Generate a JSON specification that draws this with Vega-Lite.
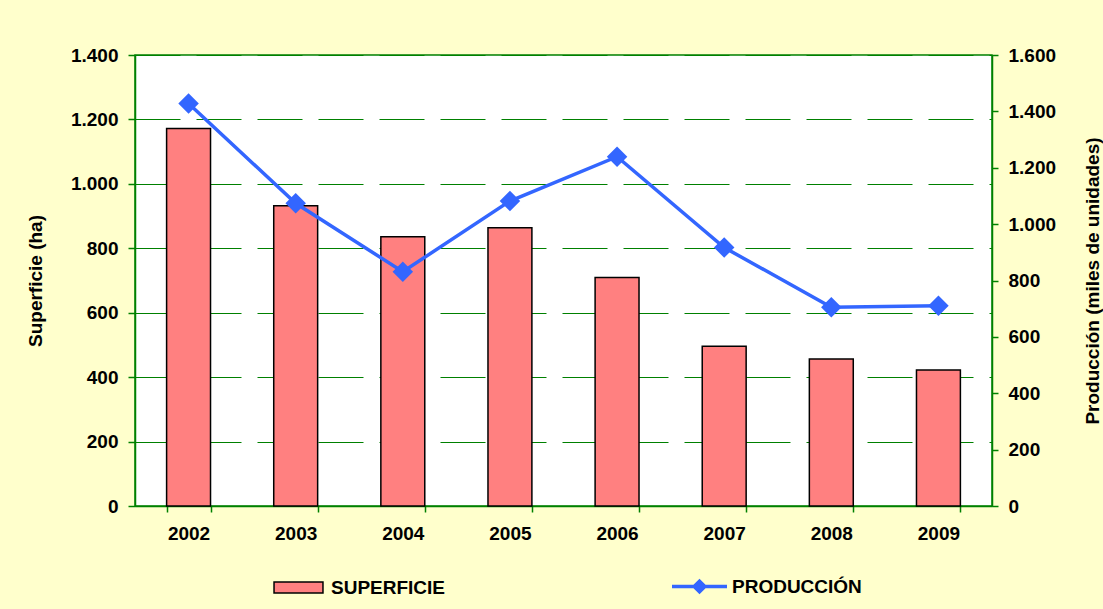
{
  "$schema": "https://vega.github.io/schema/vega-lite/v6.json",
  "autosize": {"type": "none"},
  "width": 857,
  "height": 451,
  "padding": {"left": 135, "top": 55, "right": 111, "bottom": 103},
  "background": "#FFFFCC",
  "config": {
    "font": "Liberation Sans",
    "view": {"fill": "white", "stroke": "#008000", "strokeWidth": 1.5},
    "axis": {
      "labelFont": "Liberation Sans",
      "labelFontSize": 19,
      "labelFontWeight": "bold",
      "labelColor": "black",
      "titleFont": "Liberation Sans",
      "titleFontSize": 19,
      "titleFontWeight": "bold",
      "titleColor": "black",
      "domainColor": "#008000",
      "tickColor": "#008000",
      "domainWidth": 1.5,
      "tickWidth": 1.5
    },
    "legend": {
      "labelFont": "Liberation Sans",
      "labelFontSize": 19,
      "labelFontWeight": "bold",
      "labelColor": "black",
      "padding": 0,
      "symbolSize": 3025,
      "symbolOpacity": 1
    }
  },
  "data": {
    "values": [
      {"year": "2002", "superficie": 1172, "produccion": 1428},
      {"year": "2003", "superficie": 932, "produccion": 1074},
      {"year": "2004", "superficie": 836, "produccion": 831},
      {"year": "2005", "superficie": 864, "produccion": 1082},
      {"year": "2006", "superficie": 709, "produccion": 1239},
      {"year": "2007", "superficie": 496, "produccion": 917},
      {"year": "2008", "superficie": 456, "produccion": 705},
      {"year": "2009", "superficie": 422, "produccion": 710}
    ]
  },
  "encoding": {
    "x": {
      "field": "year",
      "type": "ordinal",
      "scale": {"paddingInner": 0.59, "paddingOuter": 0.295},
      "axis": {
        "title": null,
        "labelAngle": 0,
        "tickBand": "extent",
        "tickSize": 6,
        "labelPadding": 12,
        "grid": false
      }
    }
  },
  "layer": [
    {
      "mark": {"type": "bar", "stroke": "black", "strokeWidth": 1.5},
      "encoding": {
        "y": {
          "field": "superficie",
          "type": "quantitative",
          "scale": {"domain": [0, 1400]},
          "axis": {
            "title": "Superficie (ha)",
            "values": [0, 200, 400, 600, 800, 1000, 1200, 1400],
            "labelExpr": "replace(format(datum.value, ','), ',', '.')",
            "grid": true,
            "gridColor": "#008000",
            "gridDash": [45, 16],
            "gridWidth": 1,
            "tickSize": 7,
            "labelPadding": 10,
            "titlePadding": 25
          }
        },
        "fill": {
          "datum": "SUPERFICIE",
          "type": "nominal",
          "scale": {"domain": ["SUPERFICIE"], "range": ["#FF8080"]},
          "legend": {
            "orient": "none",
            "legendX": 135,
            "legendY": 504,
            "title": null,
            "symbolType": "M-0.89,-0.2H0.89V0.2H-0.89Z",
            "symbolStrokeColor": "black",
            "symbolStrokeWidth": 1.5,
            "labelOffset": 4
          }
        }
      }
    },
    {
      "encoding": {
        "y": {
          "field": "produccion",
          "type": "quantitative",
          "scale": {"domain": [0, 1600]},
          "axis": {
            "orient": "right",
            "title": "Producción (miles de unidades)",
            "titleAngle": 270,
            "titleBaseline": "top",
            "values": [0, 200, 400, 600, 800, 1000, 1200, 1400, 1600],
            "labelExpr": "replace(format(datum.value, ','), ',', '.')",
            "grid": false,
            "tickSize": 6,
            "labelPadding": 10,
            "titlePadding": 28
          }
        }
      },
      "layer": [
        {
          "mark": {"type": "line", "strokeWidth": 3.5, "color": "#3366FF"}
        },
        {
          "mark": {"type": "point", "shape": "diamond", "size": 420, "filled": true, "opacity": 1, "strokeWidth": 0},
          "encoding": {
            "fill": {
              "datum": "PRODUCCIÓN",
              "type": "nominal",
              "scale": {"domain": ["PRODUCCIÓN"], "range": ["#3366FF"]},
              "legend": {
                "orient": "none",
                "legendX": 537,
                "legendY": 504,
                "title": null,
                "symbolType": "M-1,-0.064H-0.22L0,-0.284L0.22,-0.064H1V0.064H0.22L0,0.284L-0.22,0.064H-1Z",
                "symbolStrokeWidth": 0,
                "labelOffset": 5
              }
            }
          }
        }
      ]
    }
  ],
  "resolve": {
    "scale": {"y": "independent", "fill": "independent"},
    "legend": {"fill": "independent"}
  }
}
